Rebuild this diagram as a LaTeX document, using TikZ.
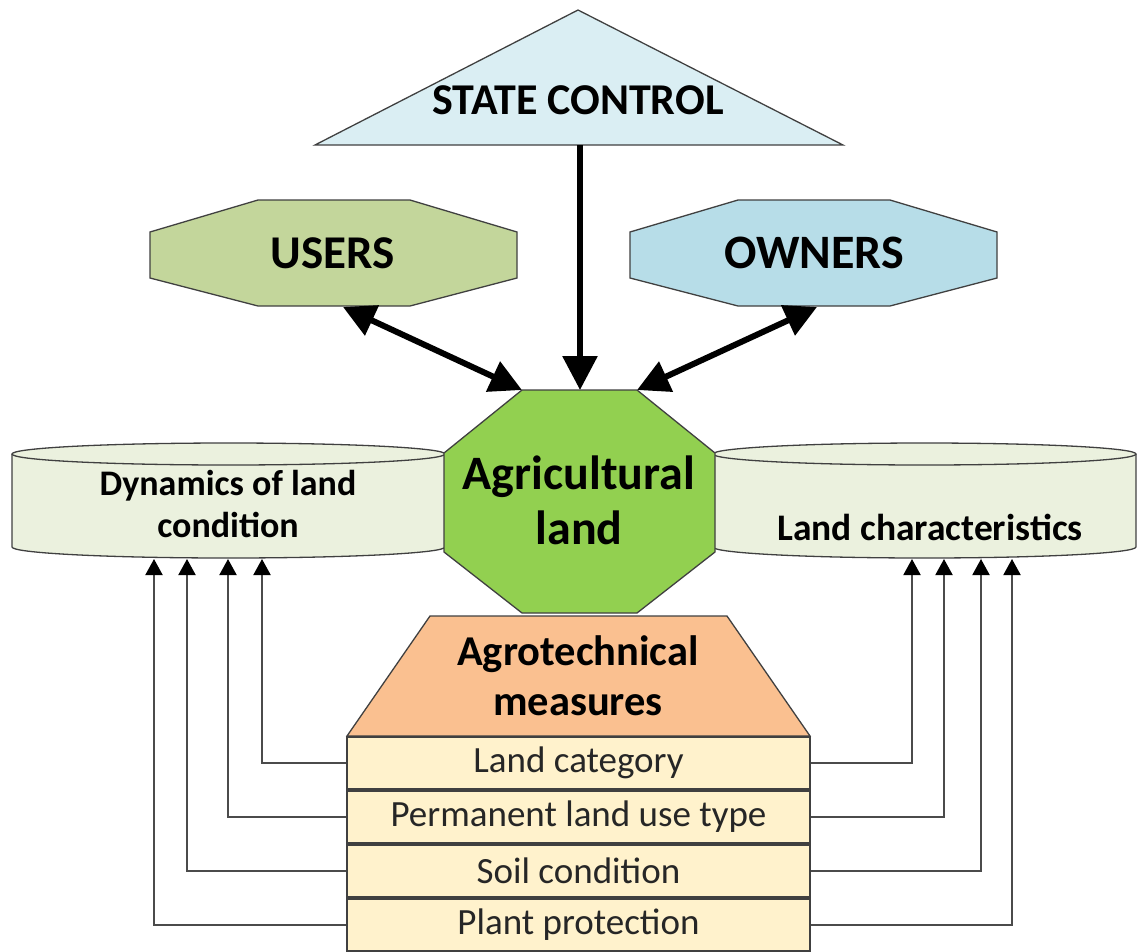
\documentclass[tikz,border=0pt]{standalone}
\usepackage{fontspec}
\setmainfont{Carlito}
\usetikzlibrary{arrows.meta}

\definecolor{stateblue}{RGB}{218,238,243}
\definecolor{usersgreen}{RGB}{195,214,155}
\definecolor{ownersblue}{RGB}{183,221,232}
\definecolor{landgreen}{RGB}{146,208,80}
\definecolor{cylgreen}{RGB}{235,241,222}
\definecolor{agroorange}{RGB}{250,192,144}
\definecolor{listyellow}{RGB}{255,242,204}
\definecolor{edgegray}{RGB}{64,64,64}
\definecolor{linkgray}{RGB}{75,75,75}

\tikzset{
  shapeedge/.style={draw=edgegray, line width=1.3pt, line join=miter},
  bigarrow/.style={line width=6pt, -{Triangle[width=34pt,length=34pt]}},
  bothway/.style={line width=6pt, {Triangle[width=32pt,length=32pt]}-{Triangle[width=32pt,length=32pt]}},
  linkarrow/.style={draw=linkgray, line width=2pt, -{Triangle[width=17pt,length=16pt,color=black]}},
  listbox/.style={shapeedge, line width=2pt, fill=listyellow, minimum width=463pt,
    minimum height=52pt, inner sep=0pt, text=black!85, font=\fontsize{37}{42}\selectfont},
  title/.style={font=\bfseries\fontsize{#1}{#1}\selectfont, align=center, inner sep=0pt},
}

\begin{document}
\begin{tikzpicture}[x=1pt,y=-1pt]
\useasboundingbox (0,0) rectangle (1138,951);

% ---- left cylinder: dynamics of land condition
\fill[cylgreen] (12,454) rectangle (445,547);
\fill[cylgreen] (228.5,547) ellipse[x radius=216.5pt, y radius=11pt];
\draw[shapeedge] (12,454) -- (12,547) arc[start angle=180, end angle=360, x radius=216.5pt, y radius=11pt] -- (445,454);
\draw[shapeedge, fill=cylgreen] (228.5,454) ellipse[x radius=216.5pt, y radius=11pt];
\node[title=36, font=\bfseries\fontsize{36}{42}\selectfont] (dyn) at (228,504) {Dynamics of land\\condition};

% ---- right cylinder: land characteristics
\fill[cylgreen] (713,454) rectangle (1136,547);
\fill[cylgreen] (924.5,547) ellipse[x radius=211.5pt, y radius=11pt];
\draw[shapeedge] (713,454) -- (713,547) arc[start angle=180, end angle=360, x radius=211.5pt, y radius=11pt] -- (1136,454);
\draw[shapeedge, fill=cylgreen] (924.5,454) ellipse[x radius=211.5pt, y radius=11pt];
\node[title=37.5] (chr) at (930,527) {Land characteristics};

% ---- central octagon: agricultural land
\coordinate (ag-tl) at (522,390);
\coordinate (ag-tm) at (580,390);
\coordinate (ag-tr) at (637,390);
\draw[shapeedge, fill=landgreen] (ag-tl) -- (ag-tr) -- (715,453) -- (715,552) -- (637,613)
  -- (522,613) -- (444,552) -- (444,453) -- cycle;
\node[title=48, font=\bfseries\fontsize{48}{55}\selectfont] (ag) at (579,500) {Agricultural\\land};

% ---- state control
\coordinate (st-b) at (580,145);
\draw[shapeedge, fill=stateblue] (315,145) -- (578,10) -- (843,145) -- cycle;
\node[title=44] (st) at (578,100) {STATE CONTROL};

% ---- users and owners
\coordinate (us-b) at (343,307);
\draw[shapeedge, fill=usersgreen] (258,200) -- (410,200) -- (517,232) -- (517,278) -- (410,306)
  -- (258,306) -- (150,278) -- (150,232) -- cycle;
\node[title=47] (us) at (333,253) {USERS};

\coordinate (ow-b) at (817,307);
\draw[shapeedge, fill=ownersblue] (738,200) -- (890,200) -- (997,232) -- (997,278) -- (890,306)
  -- (738,306) -- (630,278) -- (630,232) -- cycle;
\node[title=48] (ow) at (814,253) {OWNERS};

% ---- thick connectors
\draw[bigarrow] (st-b) -- (ag-tm);
\draw[bothway] (us-b) -- (ag-tl);
\draw[bothway] (ow-b) -- (ag-tr);

% ---- agrotechnical measures
\draw[shapeedge, fill=agroorange] (430,616) -- (727,616) -- (810,736) -- (347,736) -- cycle;
\node[title=42.5, font=\bfseries\fontsize{42.5}{50}\selectfont] (agro) at (578,676) {Agrotechnical\\measures};

\node[listbox] (b1) at (578.5,763) {Land category};
\node[listbox] (b2) at (578.5,817) {Permanent land use type};
\node[listbox] (b3) at (578.5,871) {Soil condition};
\node[listbox] (b4) at (578.5,925) {Plant protection};

% ---- thin connectors into the cylinders
\coordinate (dl1) at (262,559);
\coordinate (dl2) at (228,559);
\coordinate (dl3) at (187,559);
\coordinate (dl4) at (154,559);
\coordinate (ch1) at (912,559);
\coordinate (ch2) at (944,559);
\coordinate (ch3) at (981,559);
\coordinate (ch4) at (1012,559);

\draw[linkarrow] (b1.west) -| (dl1);
\draw[linkarrow] (b2.west) -| (dl2);
\draw[linkarrow] (b3.west) -| (dl3);
\draw[linkarrow] (b4.west) -| (dl4);
\draw[linkarrow] (b1.east) -| (ch1);
\draw[linkarrow] (b2.east) -| (ch2);
\draw[linkarrow] (b3.east) -| (ch3);
\draw[linkarrow] (b4.east) -| (ch4);
\end{tikzpicture}
\end{document}
